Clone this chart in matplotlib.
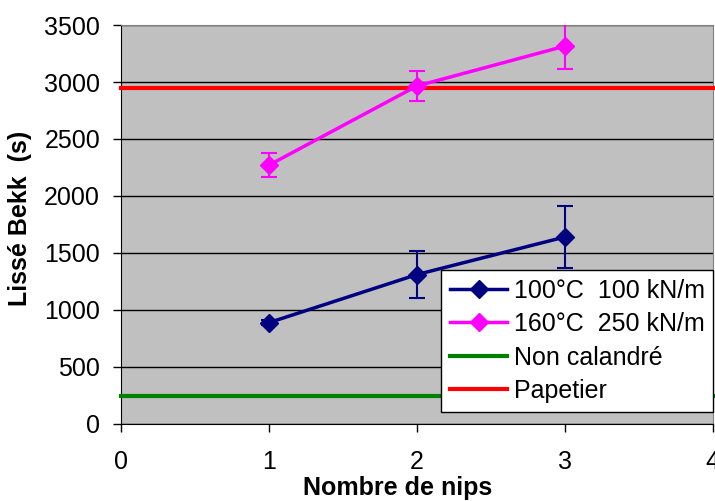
import matplotlib
matplotlib.use("Agg")
import matplotlib.pyplot as plt
from matplotlib.lines import Line2D

plt.rcParams['font.family'] = ['Liberation Sans', 'DejaVu Sans']

nips = [1, 2, 3]
bekk_100 = [888, 1310, 1640]
err_100 = [20, 205, 272]
bekk_160 = [2270, 2965, 3315]
err_160 = [103, 130, 200]

ref_x = [0, 4]
non_calandre = [240, 240]
papetier = [2950, 2950]

labels = ['100°C  100 kN/m', '160°C  250 kN/m', 'Non calandré', 'Papetier']
NAVY, MAGENTA, GREEN, RED = '#000080', '#FF00FF', '#008000', '#FF0000'

fig = plt.figure(figsize=(7.15, 5.01), dpi=100)
ax = fig.add_axes([0.169, 0.154, 0.828, 0.796])
ax.set_facecolor('#C0C0C0')

# reference levels first so the series sit on top
ax.plot(ref_x, non_calandre, color=GREEN, lw=3, zorder=3, clip_on=False)
ax.plot(ref_x, papetier, color=RED, lw=3, zorder=3, clip_on=False)

ax.errorbar(nips, bekk_100, yerr=err_100, color=NAVY, marker='D', ms=9,
            lw=2.5, capsize=6, elinewidth=1.5, capthick=1.5, zorder=4)
ax.errorbar(nips, bekk_160, yerr=err_160, color=MAGENTA, marker='D', ms=9,
            lw=2.5, capsize=6, elinewidth=1.5, capthick=1.5, zorder=4)

ax.set_xlim(0, 4)
ax.set_ylim(0, 3500)
ax.set_xticks([0, 1, 2, 3, 4])
ax.set_yticks(range(0, 3501, 500))
ax.yaxis.grid(True, color='black', lw=1)
ax.set_axisbelow(True)
ax.tick_params(labelsize=18, length=6, width=1, color='black', direction='out')
ax.tick_params(axis='x', pad=13)
ax.tick_params(axis='y', pad=9)

for side in ['top', 'right']:
    ax.spines[side].set_color('#808080')
for side in ['left', 'bottom']:
    ax.spines[side].set_color('black')

ax.set_xlabel('Nombre de nips', fontsize=18, fontweight='bold')
ax.set_ylabel('Lissé Bekk  (s)', fontsize=18, fontweight='bold')
ax.xaxis.set_label_coords(0.468, -0.13)
ax.yaxis.set_label_coords(-0.15, 0.516)

handles = [
    Line2D([], [], color=NAVY, lw=2.5, marker='D', ms=9),
    Line2D([], [], color=MAGENTA, lw=2.5, marker='D', ms=9),
    Line2D([], [], color=GREEN, lw=3, marker='_', ms=8),
    Line2D([], [], color=RED, lw=3, marker='_', ms=8),
]
leg = ax.legend(handles, labels, loc='upper left', bbox_to_anchor=(0.541, 0.386),
                fontsize=18, frameon=True, fancybox=False, framealpha=1,
                edgecolor='black', handlelength=2.3, handletextpad=0.25,
                borderpad=0.35, labelspacing=0.38, borderaxespad=0)
leg.get_frame().set_linewidth(1)
leg.set_zorder(10)

fig.savefig('out.png', dpi=100)
